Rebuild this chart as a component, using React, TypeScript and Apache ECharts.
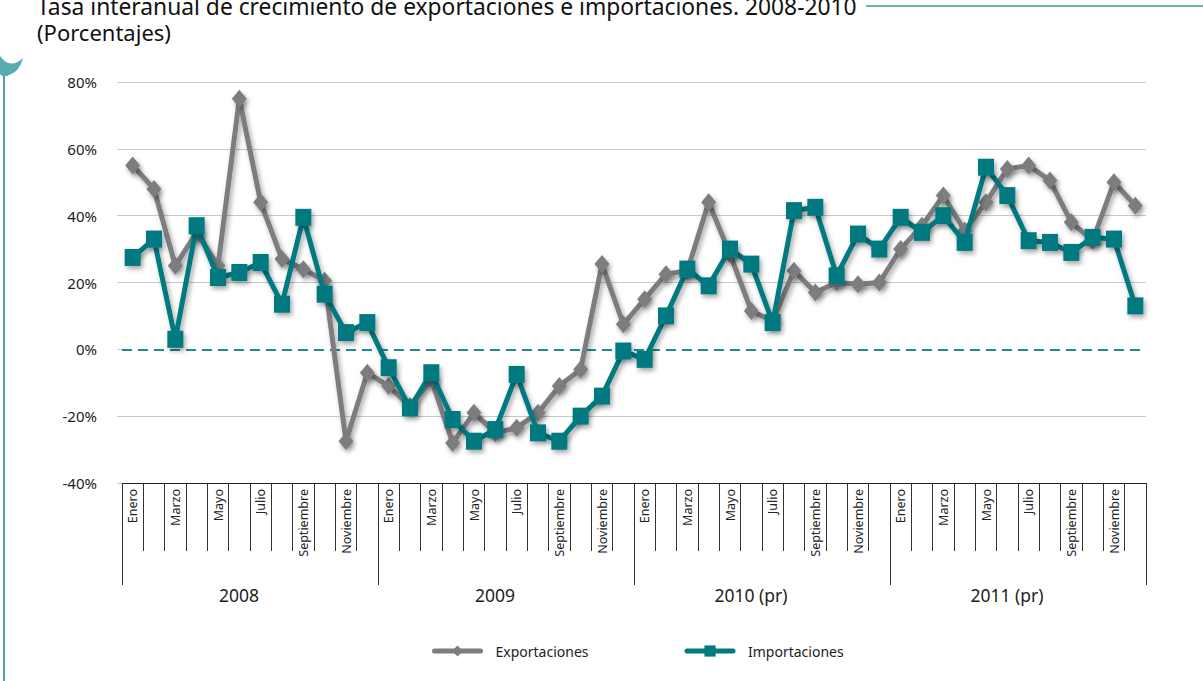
import React, { useEffect, useRef } from 'react';
import * as echarts from 'echarts';

const years = ['2008', '2009', '2010 (pr)', '2011 (pr)'];
const months = ['Enero', 'Febrero', 'Marzo', 'Abril', 'Mayo', 'Junio', 'Julio', 'Agosto', 'Septiembre', 'Octubre', 'Noviembre', 'Diciembre'];
const categories = years.flatMap((y) => months.map((m) => `${m}|${y}`));

const exportaciones = [
  55, 48, 25, 35, 25, 75, 44, 27, 24, 20.5, -27.5, -7,
  -11, -17, -9, -28, -19, -25, -23.5, -19, -11, -6, 25.5, 7.5,
  15, 22.5, 23.5, 44, 28.5, 11.5, 8.5, 23.5, 17, 20, 19.5, 20,
  30, 37, 46, 35.5, 44, 54, 55, 50.5, 38, 32.5, 50, 43,
];
const importaciones = [
  27.5, 33, 3, 37, 21.5, 23, 26, 13.5, 39.5, 16.5, 5, 8,
  -5.5, -17.5, -7, -21, -27.5, -24, -7.5, -25, -27.5, -20, -14, -0.5,
  -3, 10, 24, 19, 30, 25.5, 8, 41.5, 42.5, 22, 34.5, 30,
  39.5, 35, 40, 32, 54.5, 46, 32.5, 32, 29, 33.5, 33, 13,
];

const yMin = -40;
const yMax = 80;
const yInterval = 20;

const titleLine1 = 'Tasa interanual de crecimiento de exportaciones e importaciones. 2008-2010';
const titleLine2 = '(Porcentajes)';

const FONT = '"Noto Sans", sans-serif';
const GRAY = '#7d7d80';
const TEAL = '#007a80';

export default function App() {
  const ref = useRef<HTMLDivElement>(null);

  useEffect(() => {
    if (!ref.current) return;
    echarts.graphic.registerShape(
      'leaf',
      echarts.graphic.extendPath('M0,56 Q10,70 23,58 Q20,72 7,76 L2,76 L0,74 Z', {})
    );
    const chart = echarts.init(ref.current, undefined, { renderer: 'svg' });
    const shadow = { shadowColor: 'rgba(0,0,0,0.35)', shadowBlur: 5, shadowOffsetX: 2, shadowOffsetY: 3 };
    chart.setOption({
      animation: false,
      backgroundColor: '#ffffff',
      textStyle: { fontFamily: FONT },
      grid: { left: 122, right: 57, top: 82, bottom: 198, containLabel: false },
      legend: {
        left: 427,
        top: 639,
        itemWidth: 46,
        itemHeight: 14,
        itemGap: 96,
        lineStyle: { width: 5, cap: 'round' },
        textStyle: { fontFamily: FONT, fontSize: 14, color: '#222', padding: [0, 0, 0, 10] },
        data: ['Exportaciones', 'Importaciones'],
      },
      graphic: [
        {
          type: 'text',
          x: 37,
          y: 6,
          style: { text: titleLine1, font: `22.8px ${FONT}`, fill: '#111', verticalAlign: 'middle' },
        },
        {
          type: 'text',
          x: 37,
          y: 32,
          style: { text: titleLine2, font: `22px ${FONT}`, fill: '#111', verticalAlign: 'middle' },
        },
        { type: 'line', shape: { x1: 866, y1: 6, x2: 1203, y2: 6 }, style: { stroke: '#3b9aa1', lineWidth: 1.5 } },
        { type: 'line', shape: { x1: 4, y1: 70, x2: 4, y2: 681 }, style: { stroke: '#4aa0a8', lineWidth: 2 } },
        { type: 'leaf', x: 0, y: 0, style: { fill: '#5aaab2' } },
      ],
      xAxis: [
        {
          type: 'category',
          data: categories,
          boundaryGap: true,
          axisLine: { show: true, onZero: false, lineStyle: { color: '#222', width: 1 } },
          axisTick: { show: true, interval: 0, length: 68, lineStyle: { color: '#333', width: 1 } },
          axisLabel: {
            interval: 1,
            rotate: 90,
            margin: 6,
            fontSize: 12.5,
            color: '#222',
            fontFamily: FONT,
            formatter: (v: string) => v.split('|')[0],
          },
          splitLine: { show: false },
        },
        {
          type: 'category',
          data: years,
          position: 'bottom',
          offset: 0,
          boundaryGap: true,
          axisLine: { show: false, onZero: false },
          axisTick: { show: true, interval: 0, length: 102, lineStyle: { color: '#333', width: 1 } },
          axisLabel: {
            interval: 0,
            margin: 103,
            fontSize: 17.5,
            color: '#222',
            fontFamily: FONT,
            padding: [0, 22, 0, 0],
          },
          splitLine: { show: false },
        },
      ],
      yAxis: {
        type: 'value',
        min: yMin,
        max: yMax,
        interval: yInterval,
        axisLine: { show: false },
        axisTick: { show: true, length: 5, lineStyle: { color: '#c8c8c8' } },
        axisLabel: { margin: 25, fontSize: 15, color: '#222', fontFamily: FONT, formatter: (v: number) => `${v}%` },
        splitLine: {
          show: true,
          lineStyle: {
            color: ['#c8c8c8', '#c8c8c8', 'rgba(0,0,0,0)', '#c8c8c8', '#c8c8c8', '#c8c8c8', '#c8c8c8'],
            width: 1.2,
          },
        },
      },
      series: [
        {
          name: 'Exportaciones',
          type: 'line',
          data: exportaciones,
          showSymbol: true,
          showAllSymbol: true,
          symbol: 'diamond',
          symbolSize: [15, 18],
          lineStyle: { color: GRAY, width: 5, cap: 'round', join: 'round', ...shadow },
          itemStyle: { color: GRAY, ...shadow },
          z: 3,
          markLine: {
            silent: true,
            symbol: 'none',
            label: { show: false },
            lineStyle: { color: '#1f8a91', width: 2, type: [10, 6] },
            data: [{ yAxis: 0 }],
            z: 1,
          },
        },
        {
          name: 'Importaciones',
          type: 'line',
          data: importaciones,
          showSymbol: true,
          showAllSymbol: true,
          symbol: 'rect',
          symbolSize: [16, 17],
          lineStyle: { color: TEAL, width: 5, cap: 'round', join: 'round', ...shadow },
          itemStyle: { color: TEAL, ...shadow },
          z: 4,
        },
      ],
    });
    return () => chart.dispose();
  }, []);

  return <div ref={ref} style={{ position: 'fixed', left: 0, top: 0, width: 1203, height: 681 }} />;
}
